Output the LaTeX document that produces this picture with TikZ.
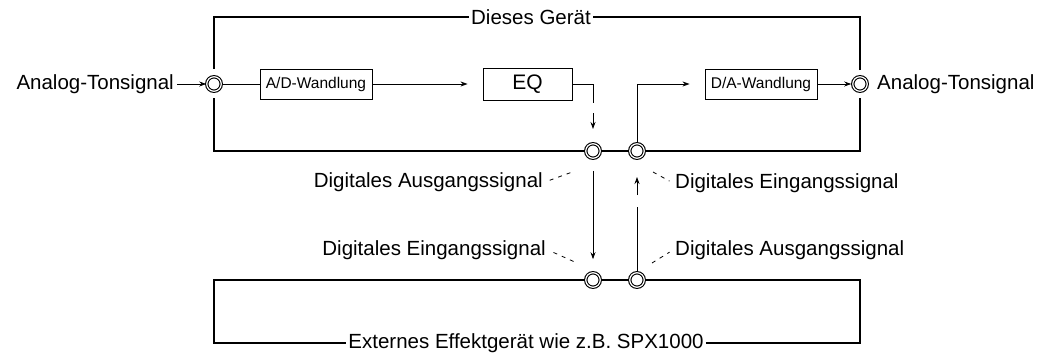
\documentclass[tikz,border=0pt]{standalone}
\usepackage{fontspec}
\setmainfont{Liberation Sans}
\usetikzlibrary{arrows.meta,calc}
\begin{document}
\begin{tikzpicture}[x=1pt,y=-1pt,
  frame/.style={line width=1.8pt},
  wire/.style={line width=0.8pt},
  arr/.style={wire,-{Stealth[length=7pt,width=5pt]}},
  jack/.style={circle,draw,double,double distance=1.2pt,line width=1.1pt,minimum size=14.5pt,inner sep=0pt},
  lbl/.style={font=\fontsize{20.5}{24}\selectfont,inner sep=2pt},
  conv/.style={draw,line width=0.9pt,font=\fontsize{15.5}{18}\selectfont,minimum width=112pt,minimum height=30pt,inner sep=0pt},
  eqbox/.style={draw,line width=0.9pt,font=\fontsize{21}{24}\selectfont,minimum width=89pt,minimum height=32pt,inner sep=0pt},
  leader/.style={line width=0.8pt,dash pattern=on 4pt off 5pt}]
\useasboundingbox (0,0) rectangle (1046,356);
\fill[white] (0,0) rectangle (1046,356);
% corners
\coordinate (tl) at (214,17);
\coordinate (tr) at (860,17);
\coordinate (bl) at (214,151);
\coordinate (br) at (860,151);
\coordinate (tlg) at (214,69);
\coordinate (blg) at (214,98);
\coordinate (trg) at (860,70);
\coordinate (brg) at (860,98);
\coordinate (xtl) at (214,280);
\coordinate (xtr) at (860,280);
\coordinate (xbl) at (214,343);
\coordinate (xbr) at (860,343);
% jacks
\node[jack] (jl) at (214,84) {};
\node[jack] (jr) at (860,84) {};
\node[jack] (j1) at (593,151) {};
\node[jack] (j2) at (637,151) {};
\node[jack] (j3) at (593,280) {};
\node[jack] (j4) at (637,280) {};
% titles
\node[lbl] (dev) at (531,17) {Dieses Gerät};
\node[lbl] (ext) at (526,343) {Externes Effektgerät wie z.B. SPX1000};
% frames
\draw[frame] (dev.west) -- (tl) -- (tlg);
\draw[frame] (blg) -- (bl) -- (j1);
\draw[frame] (j1) -- (j2);
\draw[frame] (j2) -- (br) -- (brg);
\draw[frame] (trg) -- (tr) -- (dev.east);
\draw[frame] (j3) -- (xtl) -- (xbl) -- (ext.west);
\draw[frame] (ext.east) -- (xbr) -- (xtr) -- (j4);
\draw[frame] (j3) -- (j4);
% signal chain
\node[lbl,anchor=east] (ain) at (176,84) {Analog-Tonsignal};
\node[lbl,anchor=west] (aout) at (875,84) {Analog-Tonsignal};
\node[conv] (ad) at (316,84) {A/D-Wandlung};
\node[eqbox] (eq) at (527.5,84) {EQ};
\node[conv] (da) at (761,84) {D/A-Wandlung};
\draw[arr,shorten <=1pt] (ain) -- (jl);
\draw[wire] (jl) -- (ad);
\draw[arr,shorten >=15pt] (ad) -- (eq);
\coordinate (eqd) at (593,103);
\coordinate (eqa) at (593,113);
\coordinate (eqt) at (593,129);
\draw[wire] (eq.east) -| (eqd);
\draw[arr] (eqa) -- (eqt);
\draw[arr,shorten >=15pt] (j2) |- (da.west);
\draw[arr,shorten >=1pt] (da) -- (jr);
% between devices
\draw[arr,shorten <=12pt,shorten >=13pt] (j1) -- (j3);
\coordinate (u1) at (637,207);
\coordinate (u2) at (637,195);
\coordinate (u3) at (637,177);
\draw[wire] (j4) -- (u1);
\draw[arr] (u2) -- (u3);
% labels
\node[lbl,anchor=east] (dao) at (545,182) {Digitales Ausgangssignal};
\node[lbl,anchor=west] (dei) at (673,183) {Digitales Eingangssignal};
\node[lbl,anchor=east] (dei2) at (548,250) {Digitales Eingangssignal};
\node[lbl,anchor=west] (dao2) at (673,250) {Digitales Ausgangssignal};
\coordinate (l1) at (575,171);
\coordinate (l2) at (653,172);
\coordinate (l3) at (577,263);
\coordinate (l4) at (652,263);
\draw[leader,shorten <=5pt] (dao.east) -- (l1);
\draw[leader,shorten >=4pt] (l2) -- (dei.west);
\draw[leader,shorten <=6pt] (dei2.east) -- (l3);
\draw[leader,shorten >=4pt] (l4) -- (dao2.west);
\end{tikzpicture}
\end{document}
